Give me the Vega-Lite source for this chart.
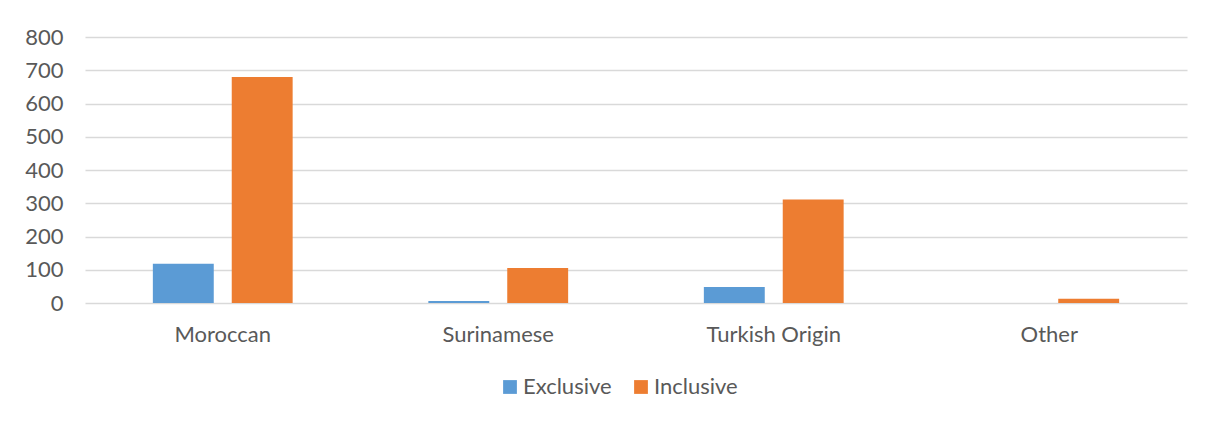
{
  "$schema": "https://vega.github.io/schema/vega-lite/v6.json",
  "autosize": "none",
  "width": 1102,
  "height": 266,
  "padding": {"left": 85, "top": 37, "right": 25, "bottom": 123},
  "background": "white",
  "config": {
    "view": {"stroke": null},
    "font": "Lato",
    "axis": {"labelFont": "Lato", "labelColor": "#595959", "labelFontSize": 22},
    "legend": {"labelFont": "Lato", "labelColor": "#595959", "labelFontSize": 22}
  },
  "data": {
    "values": [
      {"group": "Moroccan", "type": "Exclusive", "value": 118},
      {"group": "Moroccan", "type": "Inclusive", "value": 680},
      {"group": "Surinamese", "type": "Exclusive", "value": 6},
      {"group": "Surinamese", "type": "Inclusive", "value": 105},
      {"group": "Turkish Origin", "type": "Exclusive", "value": 48},
      {"group": "Turkish Origin", "type": "Inclusive", "value": 311},
      {"group": "Other", "type": "Exclusive", "value": 0},
      {"group": "Other", "type": "Inclusive", "value": 13}
    ]
  },
  "mark": {"type": "bar"},
  "encoding": {
    "x": {
      "field": "group",
      "type": "nominal",
      "sort": ["Moroccan", "Surinamese", "Turkish Origin", "Other"],
      "scale": {"paddingInner": 0, "paddingOuter": 0},
      "axis": {"title": null, "labelAngle": 0, "domain": false, "ticks": false, "labelPadding": 21, "grid": false}
    },
    "xOffset": {
      "field": "type",
      "type": "nominal",
      "scale": {"paddingInner": 0.228, "paddingOuter": 0.86}
    },
    "y": {
      "field": "value",
      "type": "quantitative",
      "scale": {"domain": [0, 800], "nice": false},
      "axis": {"title": null, "values": [0, 100, 200, 300, 400, 500, 600, 700, 800], "domain": false, "ticks": false, "labelPadding": 22, "grid": true, "gridColor": "#d9d9d9", "gridWidth": 1.5}
    },
    "color": {
      "field": "type",
      "type": "nominal",
      "scale": {"domain": ["Exclusive", "Inclusive"], "range": ["#5B9BD5", "#ED7D31"]},
      "legend": {
        "title": null,
        "orient": "none",
        "direction": "horizontal",
        "legendX": 414,
        "legendY": 339,
        "symbolType": "square",
        "symbolSize": 190,
        "symbolStrokeWidth": 0,
        "labelOffset": 2,
        "columnPadding": 18,
        "padding": 0
      }
    }
  }
}
